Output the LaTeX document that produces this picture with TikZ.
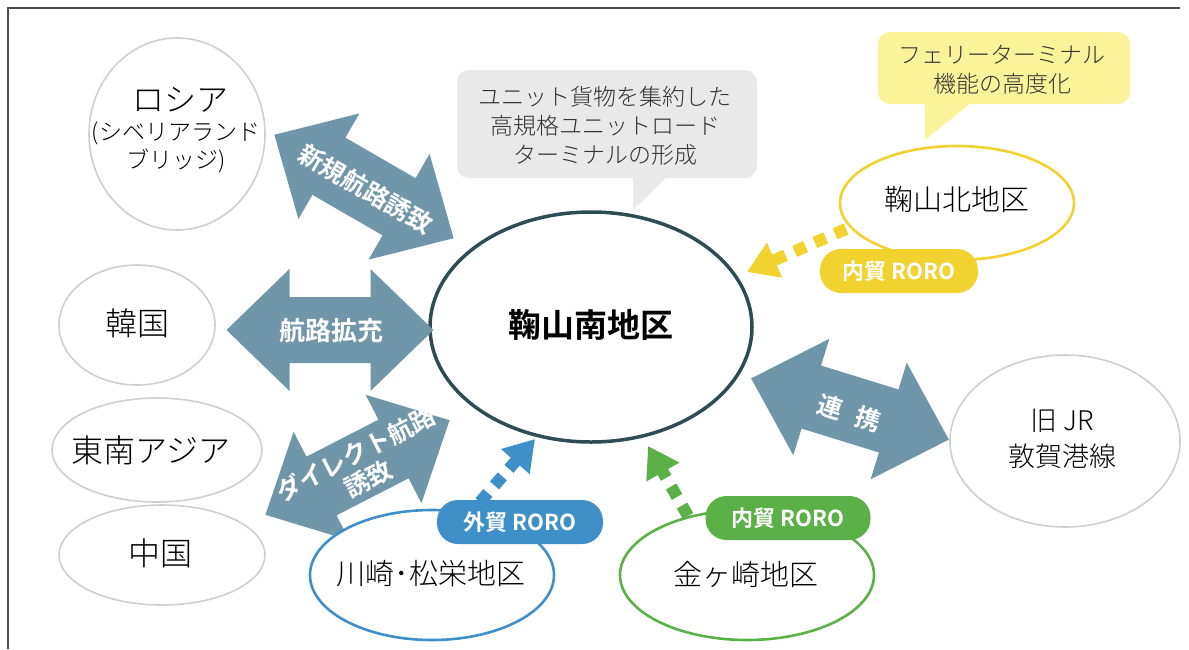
\documentclass[tikz,border=0pt]{standalone}
\usepackage{fontspec}
\setmainfont{Noto Sans CJK JP Light}[BoldFont={Noto Sans CJK JP Bold}]
\usetikzlibrary{shapes.geometric,arrows.meta}
\definecolor{arrowblue}{HTML}{7097A9}
\definecolor{mainline}{HTML}{2F4B54}
\definecolor{grayline}{HTML}{CFCFCF}
\definecolor{calloutgray}{HTML}{E9E9E9}
\definecolor{calloutyellow}{HTML}{FBF39A}
\definecolor{yel}{HTML}{F2D22E}
\definecolor{blu}{HTML}{3F90C9}
\definecolor{grn}{HTML}{5CB048}
\newcommand{\dblarrow}[3]{% cx cy angle
  \begin{scope}[shift={(#1,#2)},rotate=#3]
    \fill[arrowblue] (-103.5,0) -- (-40.5,61) -- (-40.5,33) -- (40.5,33) -- (40.5,61)
      -- (103.5,0) -- (40.5,-61) -- (40.5,-33) -- (-40.5,-33) -- (-40.5,-61) -- cycle;
  \end{scope}}
\begin{document}
\begin{tikzpicture}[x=1pt,y=-1pt,
  place/.style={ellipse,draw=grayline,line width=1.6pt,inner sep=0pt},
  bigtext/.style={font=\fontsize{32}{36}\selectfont},
  midtext/.style={font=\fontsize{29}{33}\selectfont},
  calltext/.style={font=\fontsize{23}{29}\selectfont,align=center,text=black!80},
  arrowtext/.style={font=\bfseries\fontsize{25}{28}\selectfont,text=white,align=center},
  pill/.style={rounded corners=21pt,minimum width=165pt,minimum height=44pt,text=white,
    font=\bfseries\fontsize{22}{24}\selectfont,inner sep=0pt},
  area/.style={ellipse,line width=2.6pt,inner sep=0pt,fill=white},
  dashedarrow/.style={line width=12pt,dash pattern=on 12pt off 10pt,
    -{Triangle[length=30pt,width=36pt]}}]
\useasboundingbox (0,0) rectangle (1189,649);
\fill[white] (0,0) rectangle (1189,649);
% frame
\draw[black!70,line width=2pt] (1180,8) -- (8,8) -- (8,649);
% callouts
\fill[calloutgray,rounded corners=12pt] (457,70) rectangle (757,178);
\fill[calloutgray] (633,176) -- (668,176) -- (633,210) -- cycle;
\node[calltext] (callg) at (605,126) {ユニット貨物を集約した\\高規格ユニットロード\\ターミナルの形成};
\fill[calloutyellow,rounded corners=12pt] (878,32) rectangle (1130,104);
\fill[calloutyellow] (925,102) -- (972,102) -- (925,140) -- cycle;
\node[calltext] (cally) at (1002,70) {フェリーターミナル\\機能の高度化};
% foreign places
\node[place,minimum width=176pt,minimum height=192pt] (russia) at (177,134) {};
\node[bigtext] (russiat) at (180,100) {ロシア};
\node[font=\fontsize{23}{28}\selectfont,align=center] (russias) at (176,147) {(シベリアランド\\ブリッジ)};
\node[place,minimum width=156pt,minimum height=120pt] (korea) at (137,325) {};
\node[bigtext] (koreat) at (137,323) {韓国};
\node[place,minimum width=210pt,minimum height=104pt] (sea) at (157,450) {};
\node[bigtext] (seat) at (151,450) {東南アジア};
\node[place,minimum width=206pt,minimum height=100pt] (china) at (162,555) {};
\node[bigtext] (chinat) at (160,553) {中国};
\node[place,minimum width=230pt,minimum height=172pt] (jr) at (1065,441) {};
\node[font=\fontsize{27}{36}\selectfont,align=center] (jrt) at (1062,439) {旧 JR\\敦賀港線};
% main
\node[ellipse,draw=mainline,line width=3.5pt,minimum width=322pt,minimum height=230pt,inner sep=0pt] (main) at (591,327) {};
\node[font=\bfseries\fontsize{33}{36}\selectfont] (maint) at (591,325) {鞠山南地区};
% big double arrows
\dblarrow{364}{186.5}{-30}
\node[arrowtext,rotate=-30] (a1) at (366,189) {新規航路誘致};
\dblarrow{330}{330}{0}
\node[arrowtext,font=\bfseries\fontsize{26}{28}\selectfont] (a2) at (331,331) {航路拡充};
\dblarrow{357.5}{467.5}{27.2}
\node[arrowtext,rotate=27.2] (a3) at (362,466) {ダイレクト航路\\誘致};
\dblarrow{850}{409}{-17.2}
\node[arrowtext,rotate=-17.2] (a4) at (849,413) {連\hspace{0.6em}携};
% domestic areas
\node[area,draw=yel,minimum width=234pt,minimum height=114pt] (north) at (957,203) {};
\node[midtext] (northt) at (957,200) {鞠山北地区};
\node[area,draw=blu,minimum width=244pt,minimum height=130pt] (kawa) at (432,575) {};
\node[midtext] (kawat) at (431,574) {川崎･松栄地区};
\node[area,draw=grn,minimum width=254pt,minimum height=130pt] (kane) at (747,575) {};
\node[midtext] (kanet) at (746,574) {金ヶ崎地区};
% pills
\node[pill,fill=yel,minimum width=158pt] (pn) at (899,271) {内貿 RORO};
\node[pill,fill=blu,minimum width=166pt] (pb) at (520,522) {外貿 RORO};
\node[pill,fill=grn] (pg) at (788,518) {内貿 RORO};
% dashed arrows
\coordinate (ys) at (846,229);
\coordinate (ye) at (747,272);
\draw[dashedarrow,yel] (ys) -- (ye);
\coordinate (bs) at (480,502);
\coordinate (be) at (535,439);
\draw[dashedarrow,blu] (bs) -- (be);
\coordinate (gs) at (688,516);
\coordinate (ge) at (648,446);
\draw[dashedarrow,grn] (gs) -- (ge);
\end{tikzpicture}
\end{document}
